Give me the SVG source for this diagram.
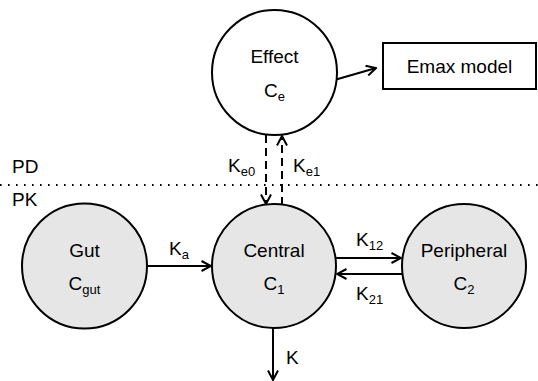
<svg xmlns="http://www.w3.org/2000/svg" width="538" height="381" viewBox="0 0 538 381">
<style>
text{font-family:"Liberation Sans",Arial,sans-serif;fill:#000}
.t{font-size:19px;text-anchor:middle}
.l{font-size:19px}
.s{font-size:13px}
.node{stroke:#000;stroke-width:2}
.pk{fill:#e6e6e6}
.pd{fill:#fff}
.ln{stroke:#000;stroke-width:2;fill:none}
.dash{stroke-dasharray:8 5}
</style>
<defs>
<marker id="arr" viewBox="0 0 12 12" refX="10.5" refY="6" markerWidth="12" markerHeight="12" markerUnits="userSpaceOnUse" orient="auto">
<path d="M1,1 L10.5,6 L1,11" fill="none" stroke="#000" stroke-width="2"/>
</marker>
</defs>
<line x1="0" y1="185" x2="538" y2="185" stroke="#000" stroke-width="2" stroke-dasharray="1.6 6.4"/>
<text class="l" x="12" y="173">PD</text>
<text class="l" x="12" y="206">PK</text>
<g id="connectors">
<line class="ln" x1="324" y1="83" x2="376" y2="68" marker-end="url(#arr)"/>
<line class="ln dash" x1="266" y1="135" x2="266" y2="204" marker-end="url(#arr)"/>
<line class="ln dash" x1="282" y1="205" x2="282" y2="136" marker-end="url(#arr)"/>
<line class="ln" x1="147" y1="266" x2="211" y2="266" marker-end="url(#arr)"/>
<line class="ln" x1="336" y1="258" x2="401" y2="258" marker-end="url(#arr)"/>
<line class="ln" x1="402" y1="274" x2="337" y2="274" marker-end="url(#arr)"/>
<line class="ln" x1="273" y1="328" x2="273" y2="380" marker-end="url(#arr)"/>
<text class="l" x="228" y="172">K<tspan class="s" dy="4">e0</tspan></text>
<text class="l" x="293" y="172">K<tspan class="s" dy="4">e1</tspan></text>
<text class="l" x="169" y="255">K<tspan class="s" dy="4">a</tspan></text>
<text class="l" x="356" y="246">K<tspan class="s" dy="4">12</tspan></text>
<text class="l" x="356" y="300">K<tspan class="s" dy="4">21</tspan></text>
<text class="l" x="286" y="364">K</text>
</g>
<g id="effect">
<circle class="node pd" cx="274.5" cy="72.5" r="62.5"/>
<text class="t" x="274.5" y="63">Effect</text>
<text class="t" x="274.5" y="97">C<tspan class="s" dy="4">e</tspan></text>
</g>
<g id="emax">
<rect x="383" y="43" width="153" height="46" fill="#fff" stroke="#000" stroke-width="2"/>
<text class="t" x="459.5" y="73">Emax model</text>
</g>
<g id="gut">
<circle class="node pk" cx="84.5" cy="266" r="62.5"/>
<text class="t" x="84.5" y="257">Gut</text>
<text class="t" x="84.5" y="290">C<tspan class="s" dy="4">gut</tspan></text>
</g>
<g id="central">
<circle class="node pk" cx="274" cy="266" r="62"/>
<text class="t" x="274" y="257">Central</text>
<text class="t" x="274" y="290">C<tspan class="s" dy="4">1</tspan></text>
</g>
<g id="peripheral">
<circle class="node pk" cx="464" cy="266" r="62"/>
<text class="t" x="464" y="257">Peripheral</text>
<text class="t" x="464" y="290">C<tspan class="s" dy="4">2</tspan></text>
</g>
</svg>
